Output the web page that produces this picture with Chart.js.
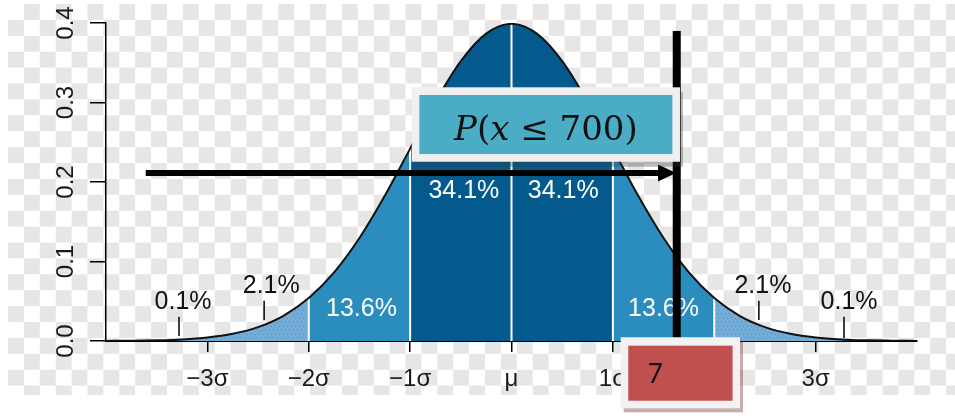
<!DOCTYPE html>
<html lang="en">
<head>
<meta charset="UTF-8">
<title>Normal distribution - P(x ≤ 700)</title>
<script src="https://cdn.jsdelivr.net/npm/chart.js"></script>
<style>
    html, body { margin: 0; padding: 0; background: #fff; }
    .chart-container { position: relative; width: 955px; height: 416px; }
</style>
</head>
<body>
<div class="chart-container"><canvas id="myChart"></canvas></div>
<script>
// x in sigma units, y = density
const sigmaSteps = [-4, -3.75, -3.5, -3.25, -3, -2.75, -2.5, -2.25, -2, -1.75, -1.5, -1.25, -1, -0.75, -0.5, -0.25,
    0, 0.25, 0.5, 0.75, 1, 1.25, 1.5, 1.75, 2, 2.25, 2.5, 2.75, 3, 3.25, 3.5, 3.75, 4];
const density = [0.0001, 0.0004, 0.0009, 0.0020, 0.0044, 0.0091, 0.0175, 0.0317, 0.0540, 0.0863, 0.1295, 0.1826, 0.2420, 0.3011, 0.3521, 0.3867,
    0.3989, 0.3867, 0.3521, 0.3011, 0.2420, 0.1826, 0.1295, 0.0863, 0.0540, 0.0317, 0.0175, 0.0091, 0.0044, 0.0020, 0.0009, 0.0004, 0.0001];

// shaded bands
const bandFrom = [-4, -2, -1, 1, 2];
const bandTo = [-2, -1, 1, 2, 4];
const bandShade = ['light', 'mid', 'dark', 'mid', 'light'];
const dividerAt = [-2, -1, 0, 1, 2];

// percentages
const pctText = ['0.1%', '2.1%', '13.6%', '34.1%', '34.1%', '13.6%', '2.1%', '0.1%'];

// axes
const xTickValues = [-3, -2, -1, 0, 1, 2, 3];
const xTickLabels = ['\u22123\u03c3', '\u22122\u03c3', '\u22121\u03c3', '\u03bc', '1\u03c3', '2\u03c3', '3\u03c3'];
const yTickValues = [0, 0.1, 0.2, 0.3, 0.4];

const ctx = document.getElementById('myChart').getContext('2d');

function dotPattern() {
    const c = document.createElement('canvas');
    c.width = 8; c.height = 8;
    const g = c.getContext('2d');
    g.fillStyle = '#74acd8';
    g.fillRect(0, 0, 8, 8);
    g.fillStyle = '#4f8dc4';
    [[1, 1], [5, 2], [3, 5], [7, 6]].forEach(p => g.fillRect(p[0], p[1], 1, 1));
    return ctx.createPattern(c, 'repeat');
}

const shadeColors = { light: dotPattern(), mid: '#2b8cbe', dark: '#045a8d' };

const curvePoints = sigmaSteps.map((x, i) => ({ x: x, y: density[i] }));

const datasets = [];
bandFrom.forEach((a, i) => {
    datasets.push({
        data: curvePoints.filter(p => p.x >= a && p.x <= bandTo[i]),
        backgroundColor: shadeColors[bandShade[i]],
        borderWidth: 0,
        fill: 'origin',
        order: 3
    });
});
dividerAt.forEach(x => {
    datasets.push({
        data: [{ x: x, y: 0 }, { x: x, y: density[sigmaSteps.indexOf(x)] }],
        borderColor: '#ffffff',
        borderWidth: 2,
        fill: false,
        order: 2
    });
});
datasets.push({
    data: curvePoints,
    borderColor: '#111111',
    borderWidth: 2,
    fill: false,
    order: 1
});

// label positions in data units (sigma, density)
const pctPos = [
    { x: -3.24, y: 0.0494, c: '#111' }, { x: -2.37, y: 0.0694, c: '#111' },
    { x: -1.48, y: 0.040, c: '#fff' }, { x: -0.47, y: 0.189, c: '#fff' },
    { x: 0.51, y: 0.189, c: '#fff' }, { x: 1.50, y: 0.040, c: '#fff' },
    { x: 2.48, y: 0.0694, c: '#111' }, { x: 3.33, y: 0.0494, c: '#111' }
];
const leaders = [
    { x: -3.28, y0: 0.0306, y1: 0.0063 }, { x: -2.44, y0: 0.0507, y1: 0.0264 },
    { x: 2.44, y0: 0.0507, y1: 0.0264 }, { x: 3.28, y0: 0.0306, y1: 0.0038 }
];

const overlay = {
    id: 'overlay',
    beforeDraw(chart) {
        const g = chart.ctx;
        const s = 15.9;
        g.save();
        g.fillStyle = '#ffffff';
        g.fillRect(0, 0, chart.width, chart.height);
        for (let r = 0; 4 + r * s < 395; r++) {
            for (let c = 0; 8 + c * s < chart.width; c++) {
                g.fillStyle = (r + c) % 2 ? '#e6e6e6' : '#ffffff';
                const y0 = 4 + r * s;
                g.fillRect(8 + c * s, y0, s + 0.5, Math.min(s + 0.5, 395 - y0));
            }
        }
        g.restore();
    },
    afterDatasetsDraw(chart) {
        const g = chart.ctx, xs = chart.scales.x, ys = chart.scales.y;
        g.save();
        g.font = '25px "Liberation Sans", Arial, sans-serif';
        g.textAlign = 'center';
        g.textBaseline = 'middle';
        pctPos.forEach((p, i) => {
            g.fillStyle = p.c;
            g.fillText(pctText[i], xs.getPixelForValue(p.x), ys.getPixelForValue(p.y));
        });
        g.strokeStyle = '#111';
        g.lineWidth = 1.6;
        leaders.forEach(l => {
            const px = xs.getPixelForValue(l.x);
            g.beginPath();
            g.moveTo(px, ys.getPixelForValue(l.y0));
            g.lineTo(px, ys.getPixelForValue(l.y1));
            g.stroke();
        });
        g.restore();
    },
    afterDraw(chart) {
        const g = chart.ctx, xs = chart.scales.x, ys = chart.scales.y;
        const X = v => xs.getPixelForValue(v), Y = v => ys.getPixelForValue(v);
        g.save();

        // y tick labels, rotated
        g.font = '24px "Liberation Sans", Arial, sans-serif';
        g.fillStyle = '#1a1a1a';
        g.textAlign = 'center';
        g.textBaseline = 'middle';
        yTickValues.forEach(v => {
            g.save();
            g.translate(66, Y(v));
            g.rotate(-Math.PI / 2);
            g.fillText(v.toFixed(1), 0, 0);
            g.restore();
        });

        // arrow
        const ay = Y(0.2113), ax0 = X(-3.608), ax1 = X(1.623);
        g.fillStyle = '#000';
        g.fillRect(ax0, ay - 3, ax1 - 16 - ax0, 6);
        g.beginPath();
        g.moveTo(ax1, ay);
        g.lineTo(ax1 - 18, ay - 8.5);
        g.lineTo(ax1 - 18, ay + 8.5);
        g.closePath();
        g.fill();

        // vertical marker
        const vx = X(1.63);
        g.fillRect(vx - 4, Y(0.39), 8, Y(0) - Y(0.39));

        // P box
        let bx0 = X(-0.984), bx1 = X(1.662), by0 = Y(0.3191), by1 = Y(0.2255);
        g.fillStyle = 'rgba(60,60,60,0.35)';
        g.fillRect(bx0 + 3, by0 + 5, bx1 - bx0, by1 - by0);
        g.fillStyle = '#f0f0f0';
        g.fillRect(bx0, by0, bx1 - bx0, by1 - by0);
        g.fillStyle = '#4bacc6';
        g.fillRect(bx0 + 7.6, by0 + 7.7, bx1 - bx0 - 15.2, by1 - by0 - 15.4);
        const mathFont = '34px "DejaVu Serif", "Liberation Serif", serif';
        const parts = [['P', 'italic '], ['(', ''], ['x', 'italic '], [' \u2264 ', ''], ['700)', '']];
        let total = 0;
        parts.forEach(p => { g.font = p[1] + mathFont; total += g.measureText(p[0]).width; });
        let tx = (bx0 + bx1) / 2 - total / 2;
        const tby = (by0 + by1) / 2 + 15;
        g.fillStyle = '#111';
        g.textAlign = 'left';
        g.textBaseline = 'alphabetic';
        parts.forEach(p => {
            g.font = p[1] + mathFont;
            g.fillText(p[0], tx, tby);
            tx += g.measureText(p[0]).width;
        });

        // red value box
        bx0 = X(1.077); bx1 = X(2.254); by0 = Y(0.0047); by1 = Y(-0.0847);
        g.fillStyle = 'rgba(120,50,50,0.4)';
        g.fillRect(bx0 + 3, by0 + 4, bx1 - bx0, by1 - by0);
        g.fillStyle = '#f2f2f2';
        g.fillRect(bx0, by0, bx1 - bx0, by1 - by0);
        g.fillStyle = '#c0504d';
        g.fillRect(bx0 + 7.6, by0 + 8.4, bx1 - bx0 - 15, by1 - by0 - 16);
        g.fillStyle = '#111';
        g.font = '26px Lato, "Liberation Sans", sans-serif';
        g.fillText('7', bx0 + 27, by0 + 46);

        g.restore();
    }
};

new Chart(ctx, {
    type: 'line',
    data: { datasets: datasets },
    options: {
        responsive: true,
        maintainAspectRatio: false,
        animation: false,
        layout: { padding: { top: 23, right: 38, left: 0, bottom: 0 } },
        elements: {
            point: { radius: 0, hoverRadius: 0 },
            line: { cubicInterpolationMode: 'monotone' }
        },
        plugins: { legend: { display: false }, tooltip: { enabled: false } },
        scales: {
            x: {
                type: 'linear',
                min: -4,
                max: 4,
                afterBuildTicks: s => { s.ticks = xTickValues.map(v => ({ value: v })); },
                afterFit: s => { s.height = 75; },
                ticks: {
                    autoSkip: false,
                    maxRotation: 0,
                    padding: 13,
                    color: '#1a1a1a',
                    font: { family: '"Liberation Sans", Arial, sans-serif', size: 24 },
                    callback: (v, i) => xTickLabels[i]
                },
                grid: { drawOnChartArea: false, tickLength: 11, color: '#000', lineWidth: 1.5 },
                border: { color: '#000', width: 2 }
            },
            y: {
                min: 0,
                max: 0.4,
                afterBuildTicks: s => { s.ticks = yTickValues.map(v => ({ value: v })); },
                afterFit: s => { s.width = 106; },
                ticks: { display: false },
                grid: { drawOnChartArea: false, tickLength: 16, color: '#000', lineWidth: 1.5 },
                border: { color: '#000', width: 1.5 }
            }
        }
    },
    plugins: [overlay]
});
</script>
</body>
</html>
